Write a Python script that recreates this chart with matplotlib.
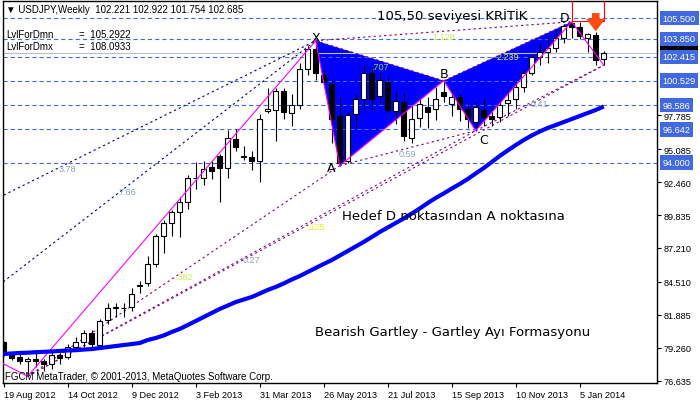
import matplotlib
matplotlib.use('Agg')
import matplotlib.pyplot as plt
from matplotlib.patches import Polygon, Rectangle
from matplotlib.transforms import blended_transform_factory

plt.rcParams['lines.scale_dashes'] = False
plt.rcParams['font.family'] = ['Liberation Sans', 'DejaVu Sans']

# ---------------- data ----------------
opens = [79.70, 78.70, 78.50, 78.20, 78.40, 78.20, 77.95, 78.70, 78.50, 79.30,
         79.75, 80.45, 79.50, 81.45, 82.45, 82.45, 82.55, 84.20, 84.40, 85.90,
         88.15, 89.20, 90.05, 90.90, 92.75, 92.75, 93.65, 94.50, 93.60, 95.90,
         94.50, 94.45, 94.15, 98.10, 98.15, 99.70, 97.95, 98.55, 101.45, 103.05,
         100.95, 100.25, 97.75, 94.10, 97.85, 99.05, 101.15, 99.30, 100.40, 98.10,
         98.80, 96.00, 97.55, 98.45, 98.25, 99.65, 98.70, 99.20, 98.30, 97.20,
         98.15, 97.75, 97.60, 98.75, 99.05, 100.00, 101.10, 102.40, 102.80, 103.15,
         103.95, 105.10, 104.80, 103.90, 104.15, 102.221]
highs = [79.85, 78.90, 78.90, 78.55, 78.95, 78.35, 78.90, 78.85, 79.55, 80.10,
         80.70, 80.70, 81.55, 82.85, 82.85, 82.80, 84.05, 84.60, 86.60, 88.35,
         89.45, 90.25, 91.25, 93.00, 94.05, 94.10, 94.15, 94.65, 96.60, 96.70,
         95.35, 94.95, 97.85, 99.90, 99.90, 99.90, 99.50, 101.95, 103.30, 103.70,
         101.40, 100.65, 99.25, 98.00, 99.45, 101.80, 101.60, 101.20, 100.90, 99.70,
         99.55, 98.50, 99.05, 99.20, 100.00, 100.52, 99.85, 99.45, 98.75, 98.85,
         99.05, 98.45, 99.05, 99.80, 100.50, 101.45, 102.55, 103.55, 104.00, 104.65,
         105.05, 105.21, 105.15, 104.35, 104.40, 102.922]
lows = [78.60, 78.30, 78.00, 77.00, 77.75, 77.45, 77.60, 78.00, 78.35, 79.10,
        79.35, 79.20, 79.33, 81.20, 81.70, 81.75, 82.20, 83.60, 84.20, 85.70,
        86.85, 88.20, 88.10, 90.30, 91.90, 92.20, 92.70, 90.85, 92.80, 94.95,
        94.20, 93.45, 92.50, 97.95, 95.70, 97.45, 96.95, 98.25, 101.00, 100.55,
        100.00, 95.60, 93.76, 93.95, 96.85, 98.25, 98.15, 98.75, 98.05, 97.10,
        95.75, 95.60, 96.80, 96.75, 97.40, 98.80, 97.75, 97.30, 96.75, 96.54,
        96.95, 96.90, 97.20, 97.75, 98.25, 99.65, 100.95, 101.75, 101.90, 102.80,
        103.55, 103.95, 103.80, 102.80, 101.80, 101.754]
closes = [78.78, 78.45, 78.25, 78.35, 78.20, 77.95, 78.70, 78.45, 79.30, 79.75,
          80.45, 79.55, 81.40, 82.45, 82.50, 82.40, 83.55, 84.30, 85.95, 88.15,
          89.20, 90.05, 90.85, 92.80, 92.80, 93.50, 93.35, 93.60, 95.95, 95.25,
          94.45, 94.10, 97.45, 98.25, 99.70, 98.00, 98.55, 101.45, 103.05, 101.15,
          100.40, 97.50, 94.00, 97.80, 99.05, 101.10, 99.10, 100.55, 98.15, 98.90,
          96.15, 97.45, 98.65, 98.05, 99.05, 99.28, 99.20, 98.25, 97.45, 98.40,
          97.60, 97.45, 98.55, 98.95, 100.00, 101.10, 102.40, 102.80, 103.15, 103.95,
          104.90, 104.80, 104.10, 104.20, 102.20, 102.685]
ma_values = [78.78, 78.82, 78.86, 78.88, 78.92, 78.95, 78.98, 79.02, 79.06, 79.08,
             79.13, 79.17, 79.25, 79.33, 79.41, 79.49, 79.57, 79.65, 79.89, 80.05,
             80.25, 80.53, 80.77, 81.08, 81.40, 81.72, 82.04, 82.36, 82.63, 82.91,
             83.11, 83.31, 83.59, 83.87, 84.11, 84.39, 84.70, 84.98, 85.30, 85.62,
             85.94, 86.25, 86.61, 86.97, 87.33, 87.69, 88.08, 88.48, 88.84, 89.20,
             89.56, 89.95, 90.35, 90.79, 91.19, 91.55, 91.94, 92.30, 92.70, 93.14,
             93.57, 94.05, 94.53, 94.97, 95.40, 95.80, 96.16, 96.48, 96.76, 96.99,
             97.23, 97.47, 97.71, 97.95, 98.19, 98.47]

# zigzag / pattern points (bar index, price)
point_names = ['M2', 'M1', 'P0', 'X', 'A', 'B', 'C', 'D', 'E']
point_bars = [-23, -8, 3, 39, 42, 55, 59, 71, 75]
point_prices = [84.18, 80.62, 77.00, 103.70, 93.76, 100.52, 96.54, 105.21, 101.754]
zigzag_order = ['M1', 'P0', 'X', 'A', 'B', 'C', 'D', 'E']

ratio_from = ['M2', 'M1', 'P0', 'P0', 'P0', 'X', 'X', 'A', 'B', 'C']
ratio_to = ['X', 'X', 'A', 'C', 'E', 'B', 'D', 'C', 'D', 'E']
ratio_text = ['3.78', '7.66', '.382', '0.27', '.125', '.707', '1.128', '0.59', '2.239', '0.41']

levels = [105.500, 103.850, 102.415, 100.529, 98.586, 96.642, 94.000]
price_ticks = [76.635, 79.260, 81.885, 84.510, 87.210, 89.835, 92.460, 95.085, 97.785]
date_labels = ['19 Aug 2012', '14 Oct 2012', '9 Dec 2012', '3 Feb 2013', '31 Mar 2013',
               '26 May 2013', '21 Jul 2013', '15 Sep 2013', '10 Nov 2013', '5 Jan 2014']
date_bars = [0, 8, 16, 24, 32, 40, 48, 56, 64, 72]

symbol = 'USDJPY,Weekly'
current_price = 102.685
lvl_dmn = 105.2922
lvl_dmx = 108.0933

# ---------------- figure ----------------
W, H = 700, 402
fig = plt.figure(figsize=(W / 100, H / 100), dpi=100)
ax_l, ax_r, ax_t, ax_b = 2.5, 657.0, 2.0, 384.0
ax = fig.add_axes([ax_l / W, (H - ax_b) / H, (ax_r - ax_l) / W, (ax_b - ax_t) / H])
ax.set_xlim(-0.15, 81.66)
ax.set_ylim(76.47, 106.86)
for s in ax.spines.values():
    s.set_linewidth(1.0)
    s.set_color('black')

pts = {n: (b, p) for n, b, p in zip(point_names, point_bars, point_prices)}

# blue pattern triangles
for tri in (['X', 'A', 'B'], ['B', 'C', 'D']):
    ax.add_patch(Polygon([pts[n] for n in tri], closed=True, facecolor='#0000FF',
                         edgecolor='none', zorder=1))

# horizontal levels
for lv in levels:
    ax.axhline(lv, color='#4169E1', lw=0.8, dashes=(3.0, 2.2), zorder=2)
ax.axhline(current_price, color='#C0C0C0', lw=0.8, zorder=2)

# ratio lines
lbl_colors = {'3.78': '#8CA0C0', '7.66': '#8CA0C0', '0.27': '#8CA0C0', '0.59': '#8CA0C0',
              '0.41': '#8CA0C0', '.382': '#C8F050', '1.128': '#C8F050', '2.239': '#C8F050',
              '.707': '#80E060', '.125': '#F0F020'}
for f, t, txt in zip(ratio_from, ratio_to, ratio_text):
    (x0, y0), (x1, y1) = pts[f], pts[t]
    col = '#000080' if f.startswith('M') else '#800080'
    ax.plot([x0, x1], [y0, y1], color=col, lw=0.8, dashes=(1.6, 2.2), zorder=2.5)
    ax.annotate(txt, ((x0 + x1) / 2, (y0 + y1) / 2), xytext=(0, -4), textcoords='offset points',
                ha='center', va='center', fontsize=6.5, color=lbl_colors[txt], zorder=6)

# red target box
kd, ke = pts['D'][0], pts['E'][0]
ax.add_patch(Rectangle((kd, lvl_dmn), ke - kd, lvl_dmx - lvl_dmn, facecolor='none',
                       edgecolor='#FF0000', lw=0.8, zorder=4))

# candles
bw = 0.62
for i, (o, h, l, c) in enumerate(zip(opens, highs, lows, closes)):
    ax.plot([i, i], [l, h], color='black', lw=0.8, zorder=3, solid_capstyle='butt')
    bull = c >= o
    ax.add_patch(Rectangle((i - bw / 2, min(o, c)), bw, abs(c - o),
                           facecolor='white' if bull else 'black', edgecolor='black',
                           lw=0.8, zorder=3.1))

# zigzag
zx = [pts[n][0] for n in zigzag_order]
zy = [pts[n][1] for n in zigzag_order]
ax.plot(zx, zy, color='#FF00FF', lw=0.8, zorder=4)

# moving average
ax.plot(range(len(ma_values)), ma_values, color='#0000FF', lw=3.0, zorder=5,
        solid_capstyle='butt')

# pattern letters
letter_off = {'X': (0, 2), 'A': (-6, -1), 'B': (0, 5), 'C': (6, -6), 'D': (-5, 3)}
for n, (dx, dy) in letter_off.items():
    ax.annotate(n, pts[n], xytext=(dx, dy), textcoords='offset points', ha='center',
                va='center', fontsize=9, color='black', family='DejaVu Sans', zorder=7)

# orange arrow above bar 74
ax.annotate('', xy=(74, highs[74] + 0.05), xytext=(74, highs[74] + 1.5),
            arrowprops=dict(arrowstyle='simple,head_width=1.4,head_length=0.9,tail_width=0.55',
                            color='#FF4A10', lw=0, shrinkA=0, shrinkB=0), zorder=8)

# axes ticks
ax.yaxis.tick_right()
ax.set_yticks(price_ticks)
ax.set_yticklabels([f'{v:.3f}' for v in price_ticks])
ax.set_xticks(date_bars)
ax.set_xticklabels(date_labels)
ax.tick_params(axis='both', labelsize=6.6, length=3, width=0.8, color='black', pad=2)
for lab in ax.get_xticklabels():
    lab.set_horizontalalignment('left')

# level boxes on price axis
btr = blended_transform_factory(ax.transAxes, ax.transData)
ax.annotate(f'{current_price:.3f}', (1.0, current_price), xycoords=btr, xytext=(4, 0),
            textcoords='offset points', ha='left', va='center', fontsize=6.6, color='white',
            bbox=dict(boxstyle='square,pad=0.3', fc='black', ec='none'), annotation_clip=False,
            zorder=9)
for lv in levels:
    ax.annotate(f'{lv:.3f}', (1.0, lv), xycoords=btr, xytext=(4, 0),
                textcoords='offset points', ha='left', va='center', fontsize=6.6, color='white',
                bbox=dict(boxstyle='square,pad=0.3', fc='#4169E1', ec='none'),
                annotation_clip=False, zorder=10)

# header texts
def ftxt(x, y, s, **kw):
    fig.text(x / W, 1 - y / H, s, va='center', ha='left', **kw)

ftxt(6, 10, f'\u25BC {symbol}  {opens[-1]:.3f} {highs[-1]:.3f} {lows[-1]:.3f} {closes[-1]:.3f}',
     fontsize=7)
ftxt(6, 35, 'LvlForDmn', fontsize=7)
ftxt(79, 35, f'=  {lvl_dmn:.4f}', fontsize=7)
ftxt(6, 47, 'LvlForDmx', fontsize=7)
ftxt(79, 47, f'=  {lvl_dmx:.4f}', fontsize=7)
ftxt(5, 377, 'FGCM MetaTrader, \u00A9 2001-2013, MetaQuotes Software Corp.', fontsize=7)

ftxt(377, 16, '105,50 seviyesi KR\u0130T\u0130K', fontsize=9.5, family='DejaVu Sans')
ftxt(342, 217, 'Hedef D noktas\u0131ndan A noktas\u0131na', fontsize=9.5, family='DejaVu Sans')
ftxt(315, 333, 'Bearish Gartley - Gartley Ay\u0131 Formasyonu', fontsize=9.5, family='DejaVu Sans')

fig.savefig('out.png', dpi=100)
